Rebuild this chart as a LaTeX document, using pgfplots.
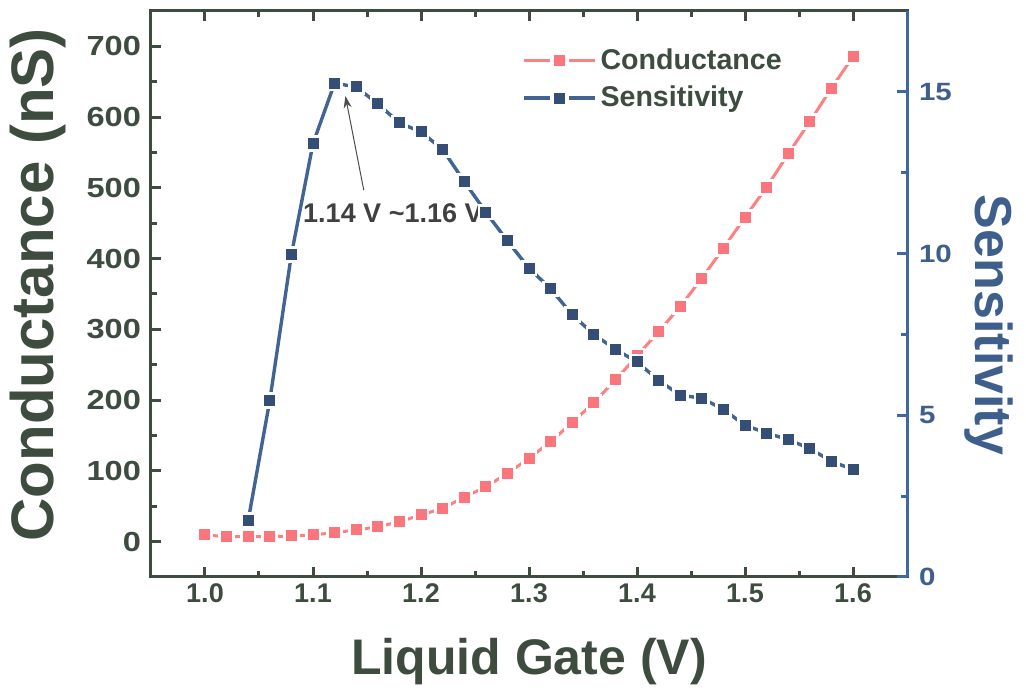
\documentclass[border=0pt]{standalone}
\usepackage{fontspec}
\setmainfont{Liberation Sans}
\newfontfamily\widefont[FakeStretch=1.18]{Liberation Sans}
\usepackage{pgfplots}
\usepackage{pgfplotstable}
\usetikzlibrary{arrows.meta}
\pgfplotsset{compat=1.18}
\definecolor{axgreen}{RGB}{62,76,64}
\definecolor{axblue}{RGB}{64,104,160}
\definecolor{labblue}{RGB}{62,94,140}
\definecolor{lineblue}{RGB}{66,100,146}
\definecolor{markblue}{RGB}{52,78,118}
\definecolor{linepink}{RGB}{255,128,128}
\definecolor{markpink}{RGB}{250,118,124}

\pgfplotstableread{
x y
1.00 9.5
1.02 7
1.04 7
1.06 7
1.08 8
1.10 9.5
1.12 12.7
1.14 16.5
1.16 21
1.18 28
1.20 37.7
1.22 47
1.24 62.6
1.26 77.5
1.28 96.4
1.30 117.6
1.32 141.3
1.34 168.2
1.36 196.5
1.38 228.5
1.40 262.5
1.42 296.8
1.44 332.2
1.46 372.3
1.48 414.7
1.50 458.5
1.52 500.9
1.54 548
1.56 593.6
1.58 640.8
1.60 685.5
}\conductance

\pgfplotstableread{
x y
1.04 1.75
1.06 5.46
1.08 9.97
1.10 13.4
1.12 15.27
1.14 15.15
1.16 14.63
1.18 14.04
1.20 13.76
1.22 13.22
1.24 12.23
1.26 11.28
1.28 10.39
1.30 9.55
1.32 8.91
1.34 8.11
1.36 7.50
1.38 7.04
1.40 6.65
1.42 6.08
1.44 5.62
1.46 5.53
1.48 5.18
1.50 4.69
1.52 4.45
1.54 4.25
1.56 3.97
1.58 3.58
1.60 3.32
}\sensitivity

\pgfplotsset{
  gaplegend/.style={legend image code/.code={\draw[mark repeat=2, mark phase=2, ##1,
    dash pattern=on 12.9pt off 9.6pt on 12.9pt]
    plot coordinates {(0pt,0pt) (17.7pt,0pt) (35.4pt,0pt)};}},
  condstyle/.style={color=linepink, line width=1.5pt, mark=square*, mark size=3.45pt,
    mark options={fill=markpink, draw=white, line width=1.4pt, solid}, gaplegend},
  sensstyle/.style={color=lineblue, line width=1.7pt, mark=square*, mark size=3.45pt,
    mark options={fill=markblue, draw=white, line width=1.4pt, solid}, gaplegend},
  common/.style={
    at={(0pt,0pt)}, anchor=south west,
    scale only axis, width=378pt, height=283pt,
    xmin=0.95, xmax=1.65,
    tick align=inside,
    major tick length=5pt, minor tick length=3pt,
    every tick/.style={line width=1.5pt},
    /pgf/number format/assume math mode=true,
  },
}

\begin{document}
\begin{tikzpicture}
\useasboundingbox (-75.5pt,-58.5pt) rectangle (437.5pt,288.5pt);
\begin{axis}[
  common,
  ymin=-50, ymax=750,
  axis line style={axgreen, line width=1.5pt},
  every tick/.append style={axgreen},
  xtick={1.0,1.1,1.2,1.3,1.4,1.5,1.6},
  minor x tick num=1,
  ytick={0,100,200,300,400,500,600,700},
  minor y tick num=1,
  xtick pos=both, ytick pos=left,
  xticklabel pos=lower,
  xticklabel style={font=\fontsize{13.5}{16}\selectfont\bfseries, text=axgreen,
    /pgf/number format/.cd, fixed, fixed zerofill, precision=1},
  yticklabel style={font=\widefont\fontsize{13.8}{16}\selectfont\bfseries, text=axgreen, xshift=-1.5pt},
  xlabel={Liquid Gate (V)},
  ylabel={Conductance (nS)},
  xlabel style={font=\fontsize{25}{30}\selectfont\bfseries, text=axgreen,
    at={(axis description cs:0.5,0)}, anchor=center, yshift=-42.5pt},
  ylabel style={font=\fontsize{30}{35}\selectfont\bfseries, text=axgreen,
    at={(axis description cs:-0.1495,0.516)}, anchor=center},
  legend style={at={(axis description cs:0.488,0.945)}, anchor=north west,
    draw=none, fill=none, font=\fontsize{14.3}{17}\selectfont\bfseries, text=axgreen,
    row sep=3pt, inner sep=1pt},
  legend cell align=left,
]
\addplot[condstyle] table[x=x,y=y] {\conductance};
\addlegendentry{Conductance}
\addlegendimage{sensstyle}
\addlegendentry{Sensitivity}
\draw[-{Stealth[length=6pt,width=4pt]}, line width=0.5pt, color=black!70]
  (axis cs:1.147,496.9) -- (axis cs:1.130,629.8);
\node[font=\fontsize{13.5}{16}\selectfont\bfseries, text=black!75, anchor=center]
  at (axis cs:1.174,464.6) {1.14 V \textasciitilde 1.16 V};
\end{axis}
\begin{axis}[
  common,
  ymin=0, ymax=17.5,
  axis x line=none,
  axis y line*=right,
  axis line style={axblue, line width=1.5pt, -},
  every tick/.append style={axblue},
  ytick={0,5,10,15},
  minor y tick num=1,
  yticklabel style={font=\widefont\fontsize{12.5}{15}\selectfont\bfseries, text=labblue, anchor=west, xshift=2.5pt},
  ylabel={Sensitivity},
  ylabel style={font=\fontsize{26}{31}\selectfont\bfseries, text=labblue,
    at={(axis description cs:1.1085,0.4452)}, anchor=center, rotate=180},
]
\addplot[sensstyle] table[x=x,y=y] {\sensitivity};
\end{axis}
\end{tikzpicture}
\end{document}
